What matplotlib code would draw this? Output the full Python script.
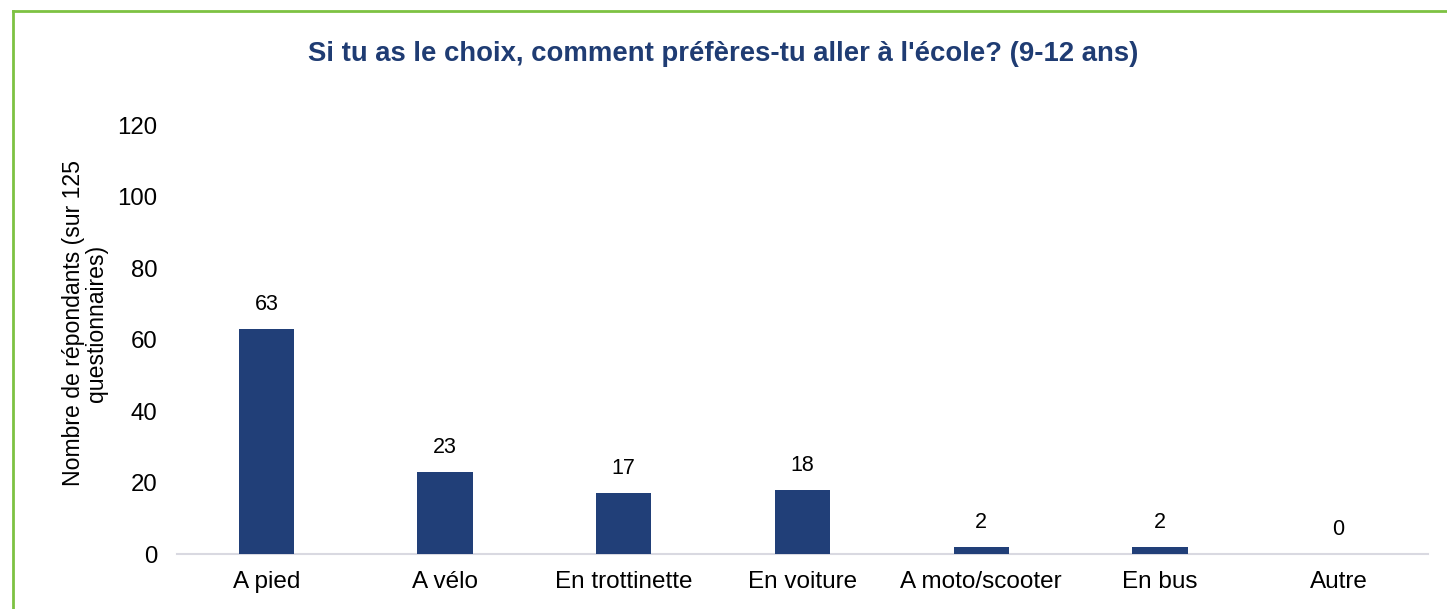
import matplotlib
matplotlib.use('Agg')
import matplotlib.pyplot as plt
from matplotlib.lines import Line2D

plt.rcParams['font.family'] = ['Liberation Sans', 'DejaVu Sans']

# data
categories = ['A pied', 'A vélo', 'En trottinette', 'En voiture',
              'A moto/scooter', 'En bus', 'Autre']
values = [63, 23, 17, 18, 2, 2, 0]

BAR = '#213F78'
TITLE = '#1F3C73'
GREEN = '#7DC242'

fig = plt.figure(figsize=(14.47, 6.09), dpi=100)
fig.patch.set_facecolor('white')
ax = fig.add_axes([0.1223, 0.0903, 0.8646, 0.7044])

x = range(len(categories))
ax.bar(x, values, width=0.31, color=BAR, zorder=3)
for xi, v in zip(x, values):
    ax.annotate(str(v), (xi, v), xytext=(0, 10), textcoords='offset points',
                ha='center', va='bottom', fontsize=15.5, color='black')

ax.set_xlim(-0.5, len(categories) - 0.5)
ax.set_ylim(0, 120)
ax.set_yticks(range(0, 121, 20))
ax.set_xticks(list(x))
ax.set_xticklabels(categories, fontsize=17.5)
ax.tick_params(axis='y', labelsize=17.3, length=0, pad=14)
ax.tick_params(axis='x', length=0, pad=12)
for s in ['top', 'right', 'left']:
    ax.spines[s].set_visible(False)
ax.spines['bottom'].set_color('#D9D9E1')
ax.spines['bottom'].set_linewidth(1.5)

ax.set_ylabel('Nombre de répondants (sur 125\nquestionnaires)', fontsize=16.6,
              linespacing=1.0)
ax.yaxis.set_label_coords(-0.055, 0.538)

fig.text(0.5, 0.912, "Si tu as le choix, comment préfères-tu aller à l'école? (9-12 ans)",
         ha='center', va='center', fontsize=19.8, fontweight='bold', color=TITLE)

# green frame (left and top)
fig.add_artist(Line2D([0.0093, 0.0093], [0, 0.982], color=GREEN, lw=2,
                      transform=fig.transFigure))
fig.add_artist(Line2D([0.0093, 1.0], [0.982, 0.982], color=GREEN, lw=2,
                      transform=fig.transFigure))

fig.savefig('out.png', dpi=100, facecolor='white')
